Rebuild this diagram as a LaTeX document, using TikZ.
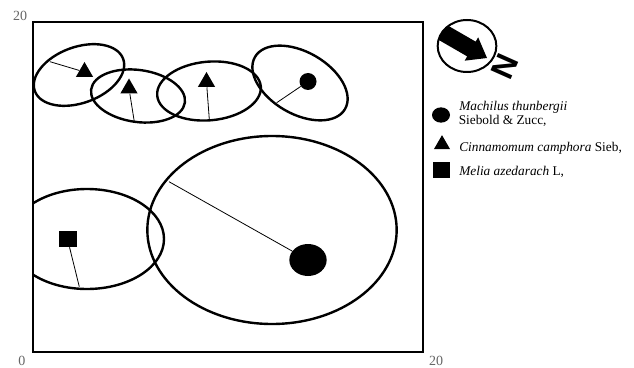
\documentclass[tikz,border=0pt]{standalone}
\usepackage{fontspec}
\setmainfont{Liberation Serif}
\setsansfont{Liberation Sans}
\usetikzlibrary{shapes.geometric}
\begin{document}
\begin{tikzpicture}[x=0.75pt,y=-0.75pt,
  zone/.style={draw, ellipse, line width=1.8pt, inner sep=0pt},
  tri/.style={regular polygon, regular polygon sides=3, fill=black, inner sep=0pt, minimum size=15pt},
  dot/.style={ellipse, fill=black, inner sep=0pt},
  sq/.style={rectangle, fill=black, inner sep=0pt},
  link/.style={line width=0.6pt},
  axlab/.style={text=black!60, font=\fontsize{10.5}{12}\selectfont, inner sep=0pt},
  legtext/.style={anchor=base west, inner sep=0pt, font=\fontsize{10}{12}\selectfont}]
\useasboundingbox (0,0) rectangle (634,367);

% frame
\node[draw, line width=2.2pt, inner sep=0pt, minimum width=292.5pt, minimum height=247.5pt] (frame) at (228,187) {};
\node[axlab] (y20) at (20,16) {20};
\node[axlab] (x0) at (22,361) {0};
\node[axlab] (x20) at (436,361) {20};

% upper zones
\node[zone, minimum width=70.5pt, minimum height=42pt, rotate=20] (e1) at (79,75) {};
\node[zone, minimum width=71pt, minimum height=39pt, rotate=-8] (e2) at (138,96) {};
\node[zone, minimum width=78pt, minimum height=44pt, rotate=5] (e3) at (209,91) {};
\node[zone, minimum width=78pt, minimum height=46.5pt, rotate=-30] (e4) at (300,83) {};

% lower zones
\begin{scope}
  \clip (33,22) rectangle (423,352);
  \node[zone, minimum width=115.5pt, minimum height=75pt] (e5) at (87,239) {};
\end{scope}
\node[zone, minimum width=187pt, minimum height=141pt] (e6) at (272,230) {};

% markers
\node[tri] (t1) at (84.5,72) {};
\node[tri] (t2) at (129,88.5) {};
\node[tri] (t3) at (206.5,82) {};
\node[dot, minimum width=12.75pt, minimum height=12.75pt] (d1) at (308,81.5) {};
\node[sq, minimum width=13.5pt, minimum height=12pt] (s1) at (67.5,239) {};
\node[dot, minimum width=28pt, minimum height=24pt] (d2) at (308,260) {};

% edge points
\coordinate (c1) at (50,61.7);
\coordinate (c2) at (134.3,121.7);
\coordinate (c3) at (209.3,119.3);
\coordinate (c4) at (276.7,102.7);
\coordinate (c5) at (79.3,286.7);
\coordinate (c6) at (169,181.7);

\draw[link] (t1) -- (c1);
\draw[link] (t2) -- (c2);
\draw[link] (t3) -- (c3);
\draw[link] (d1) -- (c4);
\draw[link] (s1) -- (c5);
\draw[link] (d2) -- (c6);

% compass
\node[draw, ellipse, line width=1.5pt, inner sep=0pt, minimum width=44pt, minimum height=39pt] (compass) at (467,46) {};
\begin{scope}
  \clip (467,46) ellipse [x radius=22pt, y radius=19.5pt];
  \fill[shift={(487,58)}, rotate=-30]
    (0,0) -- (-18,13.5) -- (-18,8.5) -- (-80,8.5) -- (-80,-8.5) -- (-18,-8.5) -- (-18,-13.5) -- cycle;
\end{scope}
\node[inner sep=0pt, rotate=-114, font=\sffamily\bfseries\fontsize{24}{24}\selectfont] (north) at (505,67) {N};

% legend
\node[dot, minimum width=13.5pt, minimum height=11.5pt] (ld) at (441,115) {};
\node[legtext] (lt1) at (459,110.5) {\textit{Machilus thunbergii}};
\node[legtext] (lt1b) at (458.5,124.5) {Siebold \& Zucc,};
\node[tri, minimum size=14pt] (lt) at (442,144.5) {};
\node[legtext] (lt2) at (459,151.5) {\textit{Cinnamomum camphora} Sieb,};
\node[sq, minimum width=12.5pt, minimum height=12pt] (ls) at (441.5,170) {};
\node[legtext] (lt3) at (459,175.5) {\textit{Melia azedarach} L,};
\end{tikzpicture}
\end{document}
